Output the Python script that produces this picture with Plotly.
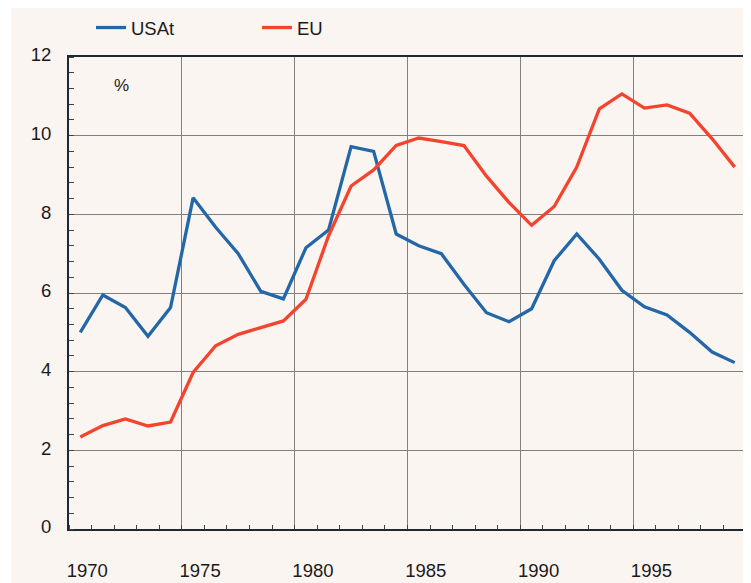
import plotly.graph_objects as go

years = list(range(1970, 2000))
usat = [5.0, 5.95, 5.63, 4.9, 5.63, 8.42, 7.67, 7.0, 6.04, 5.85,
        7.15, 7.6, 9.72, 9.6, 7.5, 7.2, 7.0, 6.22, 5.5, 5.27,
        5.6, 6.82, 7.5, 6.86, 6.07, 5.65, 5.44, 5.0, 4.5, 4.23]
eu = [2.34, 2.63, 2.8, 2.62, 2.72, 3.98, 4.66, 4.95, 5.12, 5.29,
      5.84, 7.45, 8.72, 9.13, 9.75, 9.94, 9.85, 9.75, 8.97, 8.3,
      7.72, 8.2, 9.2, 10.68, 11.06, 10.7, 10.78, 10.57, 9.92, 9.2]
xlabels = [1970, 1975, 1980, 1985, 1990, 1995]
grid_x = [1974.5, 1979.5, 1984.5, 1989.5, 1994.5]
yticks = [0, 2, 4, 6, 8, 10, 12]

BG = "#fbf5f2"
AXC = "#1e2a32"
GRID = "#808080"
FONT = "Liberation Sans, Arial, sans-serif"
TXT = "#1a1a1a"

# the page body adds an 8px offset; the figure is sized to fill the rest
OFF = 8
W, H = 751 - OFF, 583 - OFF
L, R, T, B = 69 - OFF, 5, 57 - OFF, 54
pw, ph = W - L - R, H - T - B


def px_x(p):
    return (p - OFF - L) / pw


def px_y(p):
    return 1 - (p - OFF - T) / ph


fig = go.Figure()
fig.add_trace(go.Scatter(x=years, y=usat, name="USAt", mode="lines",
                         line=dict(color="#2467a8", width=3.3)))
fig.add_trace(go.Scatter(x=years, y=eu, name="EU", mode="lines",
                         line=dict(color="#f4442e", width=3.3)))
fig.add_trace(go.Scatter(x=[], y=[], xaxis="x2", showlegend=False, hoverinfo="skip"))

fig.update_layout(
    width=W, height=H,
    margin=dict(l=L, r=R, t=T, b=B, pad=0, autoexpand=False),
    paper_bgcolor=BG, plot_bgcolor=BG,
    font=dict(family=FONT, size=18, color=TXT),
    showlegend=True,
    legend=dict(orientation="h", x=px_x(91), xanchor="left",
                y=px_y(28), yanchor="middle",
                bgcolor="rgba(0,0,0,0)", font=dict(size=18.5, color=TXT),
                entrywidth=121, entrywidthmode="pixels",
                itemwidth=30),
    xaxis=dict(range=[1969.5, 1999.5], tickvals=xlabels, ticktext=[str(v) for v in xlabels],
               showgrid=False, zeroline=False, ticks="", automargin=False,
               showline=True, linecolor=AXC, linewidth=2, mirror=True,
               ticklabelstandoff=24, ticklabelshift=7,
               tickfont=dict(size=18.5, color=TXT)),
    xaxis2=dict(range=[1969.5, 1999.5], overlaying="x", anchor="y",
                tickvals=grid_x, showticklabels=False, ticks="", automargin=False,
                showgrid=True, gridcolor=GRID, gridwidth=1.3, zeroline=False,
                showline=False,
                minor=dict(tick0=0.5, dtick=1, ticks="inside", ticklen=4,
                           tickcolor="#444444", tickwidth=1, showgrid=False)),
    yaxis=dict(range=[0, 12], tickvals=yticks, showgrid=True, gridcolor=GRID,
               gridwidth=1.3, zeroline=False, ticks="", automargin=False,
               showline=True, linecolor=AXC, linewidth=2, mirror=True,
               ticklabelstandoff=12, ticklabelshift=-2,
               minor=dict(tick0=0, dtick=0.4, ticks="inside", ticklen=5,
                          tickcolor="#444444", tickwidth=1, showgrid=False),
               tickfont=dict(size=18.5, color=TXT)),
    shapes=[
        dict(type="rect", xref="paper", yref="paper",
             x0=-L / pw, x1=(3 - L) / pw, y0=-B / ph, y1=1 + T / ph,
             fillcolor="white", line=dict(width=0), layer="below"),
    ],
    annotations=[dict(text="%", xref="paper", yref="paper",
                      x=px_x(121), y=px_y(86), xanchor="center", yanchor="middle",
                      showarrow=False, font=dict(size=17, color=TXT))],
)

fig.write_html("out.html")
